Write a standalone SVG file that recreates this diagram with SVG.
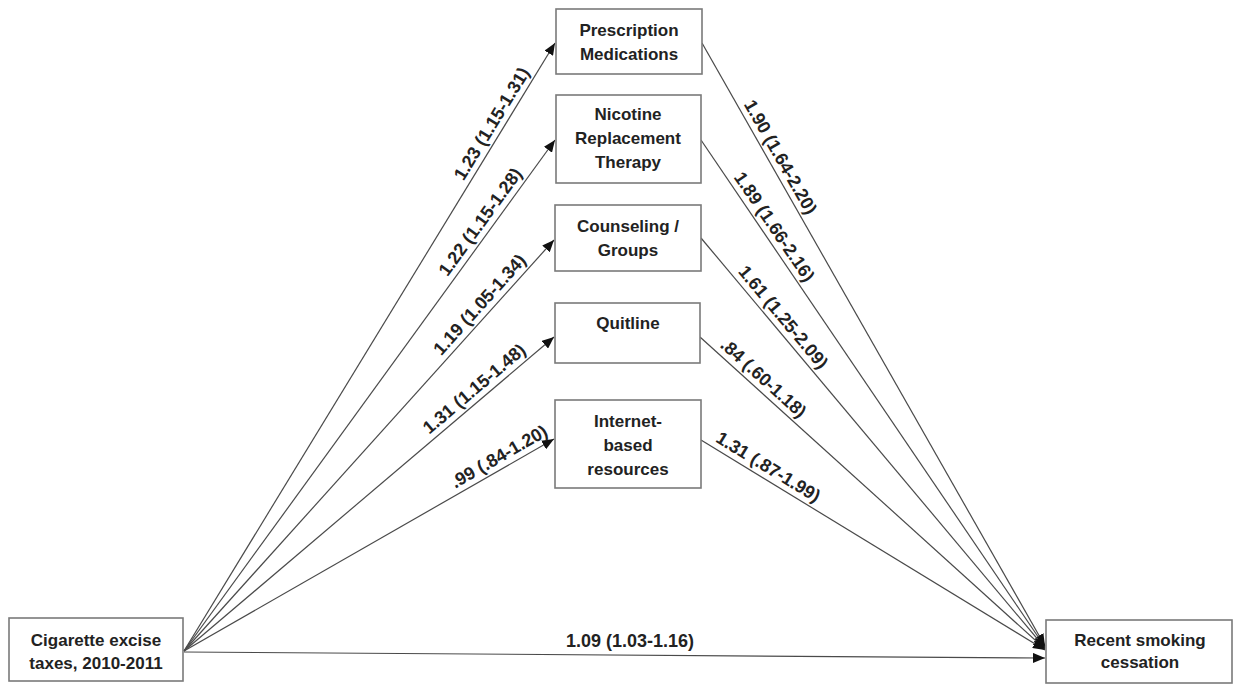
<svg xmlns="http://www.w3.org/2000/svg" width="1235" height="684" viewBox="0 0 1235 684">
  <style>
    .box { fill: #ffffff; stroke: #7a7a7a; stroke-width: 1.6; }
    .t { font-family: "Liberation Sans", Arial, sans-serif; font-weight: bold; font-size: 17px; fill: #222; text-anchor: middle; }
    .lbl { font-family: "Liberation Sans", Arial, sans-serif; font-weight: bold; font-size: 18px; fill: #222; text-anchor: middle; }
    .edge { stroke: #4a4a4a; stroke-width: 1.2; fill: none; marker-end: url(#arr); }
  </style>
  <defs>
    <marker id="arr" viewBox="0 0 12 10" refX="12" refY="5" markerWidth="12" markerHeight="10" markerUnits="userSpaceOnUse" orient="auto">
      <path d="M0,0 L12,5 L0,10 z" fill="#111"/>
    </marker>
  </defs>
  <rect width="1235" height="684" fill="#ffffff"/>

  <g id="connectors">
    <line class="edge" x1="184" y1="651" x2="555" y2="43"/>
    <line class="edge" x1="184" y1="651" x2="555" y2="140"/>
    <line class="edge" x1="184" y1="651" x2="554" y2="240"/>
    <line class="edge" x1="184" y1="651" x2="554" y2="337"/>
    <line class="edge" x1="184" y1="651" x2="554" y2="439"/>
    <line class="edge" x1="702" y1="43" x2="1045" y2="646"/>
    <line class="edge" x1="701" y1="140" x2="1045" y2="647"/>
    <line class="edge" x1="701" y1="238" x2="1045" y2="648"/>
    <line class="edge" x1="700" y1="337" x2="1045" y2="649"/>
    <line class="edge" x1="701" y1="440" x2="1045" y2="650"/>
    <line class="edge" x1="184" y1="652" x2="1045" y2="658"/>

    <text class="lbl" transform="translate(502,130) rotate(-58.6)" x="0" y="-6">1.23 (1.15-1.31)</text>
    <text class="lbl" transform="translate(490,229) rotate(-54)" x="0" y="-6">1.22 (1.15-1.28)</text>
    <text class="lbl" transform="translate(488.6,312.6) rotate(-48)" x="0" y="-6">1.19 (1.05-1.34)</text>
    <text class="lbl" transform="translate(482,398) rotate(-40.3)" x="0" y="-6">1.31 (1.15-1.48)</text>
    <text class="lbl" transform="translate(505,467) rotate(-29.8)" x="0" y="-6">.99 (.84-1.20)</text>

    <text class="lbl" transform="translate(770,163) rotate(60.4)" x="0" y="-6">1.90 (1.64-2.20)</text>
    <text class="lbl" transform="translate(764.4,233.5) rotate(55.8)" x="0" y="-6">1.89 (1.66-2.16)</text>
    <text class="lbl" transform="translate(774,325) rotate(50)" x="0" y="-6">1.61 (1.25-2.09)</text>
    <text class="lbl" transform="translate(755.4,387.1) rotate(42.1)" x="0" y="-6">.84 (.60-1.18)</text>
    <text class="lbl" transform="translate(762,477.2) rotate(31.4)" x="0" y="-6">1.31 (.87-1.99)</text>

    <text class="lbl" x="630" y="647">1.09 (1.03-1.16)</text>
  </g>

  <g id="node-taxes">
    <rect class="box" x="9" y="618" width="174" height="63"/>
    <text class="t" x="96" y="646">Cigarette excise</text>
    <text class="t" x="96" y="669">taxes, 2010-2011</text>
  </g>

  <g id="node-cessation">
    <rect class="box" x="1046" y="620" width="186" height="63"/>
    <text class="t" x="1140" y="646">Recent smoking</text>
    <text class="t" x="1140" y="668">cessation</text>
  </g>

  <g id="node-prescription">
    <rect class="box" x="556" y="9" width="146" height="65"/>
    <text class="t" x="629" y="36">Prescription</text>
    <text class="t" x="629" y="60">Medications</text>
  </g>

  <g id="node-nrt">
    <rect class="box" x="556" y="95" width="145" height="88"/>
    <text class="t" x="628" y="120">Nicotine</text>
    <text class="t" x="628" y="144">Replacement</text>
    <text class="t" x="628" y="168">Therapy</text>
  </g>

  <g id="node-counseling">
    <rect class="box" x="555" y="205" width="146" height="66"/>
    <text class="t" x="628" y="232">Counseling /</text>
    <text class="t" x="628" y="256">Groups</text>
  </g>

  <g id="node-quitline">
    <rect class="box" x="555" y="303" width="145" height="60"/>
    <text class="t" x="628" y="329">Quitline</text>
  </g>

  <g id="node-internet">
    <rect class="box" x="555" y="400" width="146" height="88"/>
    <text class="t" x="628" y="427">Internet-</text>
    <text class="t" x="628" y="451">based</text>
    <text class="t" x="628" y="475">resources</text>
  </g>
</svg>
